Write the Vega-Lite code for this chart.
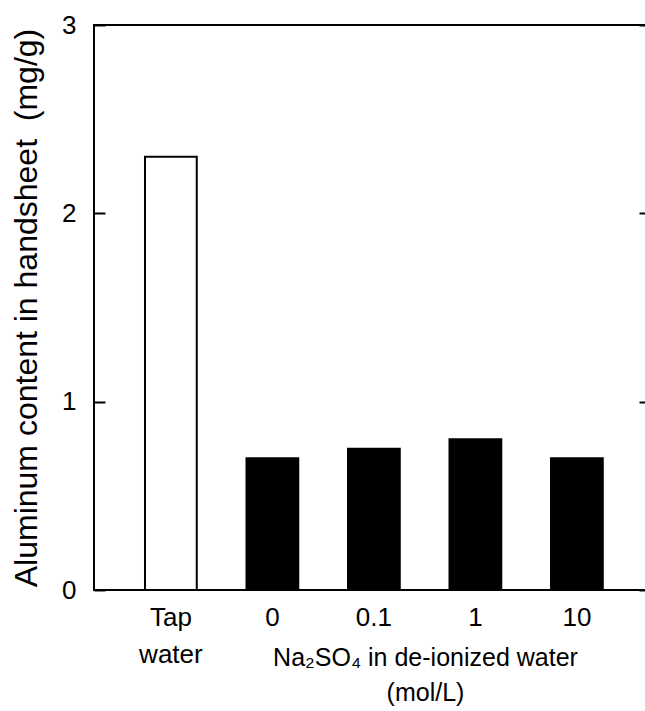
{
  "$schema": "https://vega.github.io/schema/vega-lite/v6.json",
  "autosize": "none",
  "width": 554,
  "height": 565,
  "padding": {"left": 94, "top": 25, "right": 0, "bottom": 121},
  "background": "white",
  "config": {
    "font": "Liberation Sans",
    "view": {"stroke": "black", "strokeWidth": 2},
    "axis": {"labelFont": "Liberation Sans", "titleFont": "Liberation Sans", "labelColor": "black", "titleColor": "black", "titleFontWeight": "normal", "grid": false}
  },
  "data": {
    "values": [
      {"group": "Tap water", "value": 2.3},
      {"group": "0", "value": 0.7},
      {"group": "0.1", "value": 0.75},
      {"group": "1", "value": 0.8},
      {"group": "10", "value": 0.7}
    ]
  },
  "layer": [
    {
      "mark": {"type": "bar", "stroke": "black", "strokeWidth": 2},
      "encoding": {
        "x": {
          "field": "group", "type": "nominal", "sort": null,
          "scale": {"paddingInner": 0.49, "paddingOuter": 0.474, "align": 0.53},
          "axis": {
            "title": ["Na₂SO₄ in de-ionized water", "(mol/L)"],
            "titleFontSize": 25,
            "titleLineHeight": 35,
            "titleX": 331,
            "titleY": 55,
            "titleAlign": "center",
            "titleBaseline": "top",
            "labelAngle": 0,
            "labelFontSize": 26,
            "labelLineHeight": 37,
            "labelPadding": 14,
            "labelExpr": "datum.label == 'Tap water' ? ['Tap', 'water'] : datum.label",
            "ticks": false,
            "domain": false
          }
        },
        "y": {
          "field": "value", "type": "quantitative",
          "scale": {"domain": [0, 3], "nice": false},
          "axis": {
            "title": "Aluminum content in handsheet\u00a0 (mg/g)",
            "titleFontSize": 32,
            "titlePadding": 18,
            "values": [0, 1, 2, 3],
            "format": "d",
            "labelFontSize": 26,
            "tickSize": -11,
            "tickWidth": 2,
            "tickColor": "black",
            "labelPadding": 29,
            "domain": false
          }
        },
        "fill": {
          "field": "group", "type": "nominal",
          "scale": {"domain": ["Tap water", "0", "0.1", "1", "10"], "range": ["white", "black", "black", "black", "black"]},
          "legend": null
        }
      }
    },
    {
      "mark": {"type": "rule", "opacity": 0},
      "encoding": {
        "y": {
          "field": "value", "type": "quantitative",
          "axis": {
            "orient": "right",
            "title": null,
            "values": [0, 1, 2, 3],
            "labels": false,
            "tickSize": -9,
            "tickWidth": 2,
            "tickColor": "black",
            "domain": false
          }
        }
      }
    }
  ],
  "resolve": {"axis": {"y": "independent"}}
}
